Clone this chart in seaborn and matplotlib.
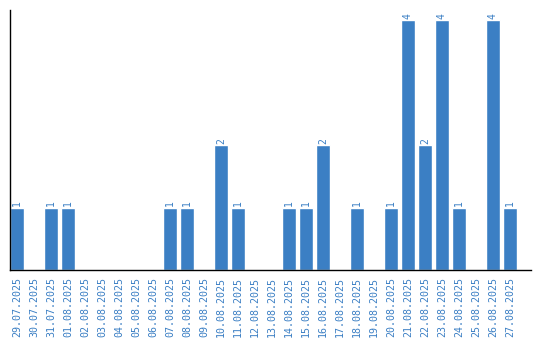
import matplotlib
matplotlib.use("Agg")
import matplotlib.pyplot as plt
import seaborn as sns
import pandas as pd

dates = ["29.07.2025", "30.07.2025", "31.07.2025", "01.08.2025", "02.08.2025",
         "03.08.2025", "04.08.2025", "05.08.2025", "06.08.2025", "07.08.2025",
         "08.08.2025", "09.08.2025", "10.08.2025", "11.08.2025", "12.08.2025",
         "13.08.2025", "14.08.2025", "15.08.2025", "16.08.2025", "17.08.2025",
         "18.08.2025", "19.08.2025", "20.08.2025", "21.08.2025", "22.08.2025",
         "23.08.2025", "24.08.2025", "25.08.2025", "26.08.2025", "27.08.2025"]
counts = [1, 0, 1, 1, 0, 0, 0, 0, 0, 1,
          1, 0, 2, 1, 0, 0, 1, 1, 2, 0,
          1, 0, 1, 4, 2, 4, 1, 0, 4, 1]

color = "#3b7fc4"
sns.set_style("white")
plt.rcParams['font.family'] = ['DejaVu Sans Mono', 'DejaVu Sans']

df = pd.DataFrame({"date": dates, "count": counts})

fig = plt.figure(figsize=(5.4, 3.4), dpi=100)
ax = fig.add_axes([10/540, 70/340, 521/540, 260/340])
sns.barplot(data=df, x="date", y="count", order=dates, color=color,
            saturation=1, width=14/17, ax=ax)

for i, v in enumerate(counts):
    if v > 0:
        ax.text(i, v + 0.02, str(v), rotation=90, ha="center", va="bottom",
                color=color, fontsize=7)

ax.set_xlim(-7/17, 30.24)
ax.set_ylim(0, 260/62.5)
ax.set_xlabel("")
ax.set_ylabel("")
ax.set_yticks([])
ax.tick_params(axis="x", length=0, pad=5, labelsize=7.2, labelcolor=color)
for lab in ax.get_xticklabels():
    lab.set_rotation(90)
ax.spines["top"].set_visible(False)
ax.spines["right"].set_visible(False)
ax.spines["left"].set_color("black")
ax.spines["bottom"].set_color("black")
ax.spines["left"].set_linewidth(1.0)
ax.spines["bottom"].set_linewidth(1.0)

fig.savefig("out.png", dpi=100)
